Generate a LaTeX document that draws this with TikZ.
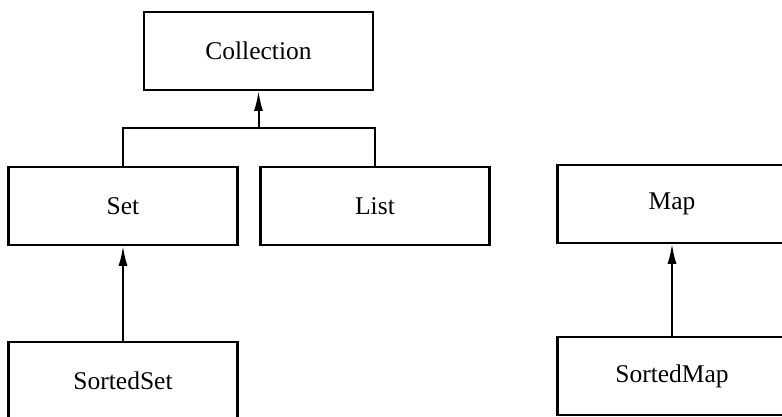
\documentclass[tikz,border=0pt]{standalone}
\usepackage{fontspec}
\setmainfont{Liberation Serif}
\usetikzlibrary{positioning, arrows.meta}

\begin{document}
\begin{tikzpicture}[x=0.4pt, y=-0.4pt,
    cls/.style={draw, line width=0.9pt, minimum width=91.5pt, minimum height=31pt, inner sep=0pt, font=\fontsize{10.2pt}{12pt}\selectfont},
    inherit/.style={line width=0.8pt, -{Latex[length=8pt, width=3.6pt]}}]
    \clip (0,0) rectangle (782,417);
    \node[cls] (coll) at (258.5,51) {Collection};
    \node[cls] (set) at (123,206) {Set};
    \node[cls] (list) at (375,206) {List};
    \node[cls] (map) at (672,204) {Map};
    \node[cls] (sset) at (123,381) {SortedSet};
    \node[cls] (smap) at (672,376) {SortedMap};
    \coordinate (join) at (258.5,128);
    \draw[line width=0.8pt] (set.north) |- (join) -| (list.north);
    \draw[inherit] (join) -- (coll.south);
    \draw[inherit] (sset.north) -- (set.south);
    \draw[inherit] (smap.north) -- (map.south);
\end{tikzpicture}
\end{document}
